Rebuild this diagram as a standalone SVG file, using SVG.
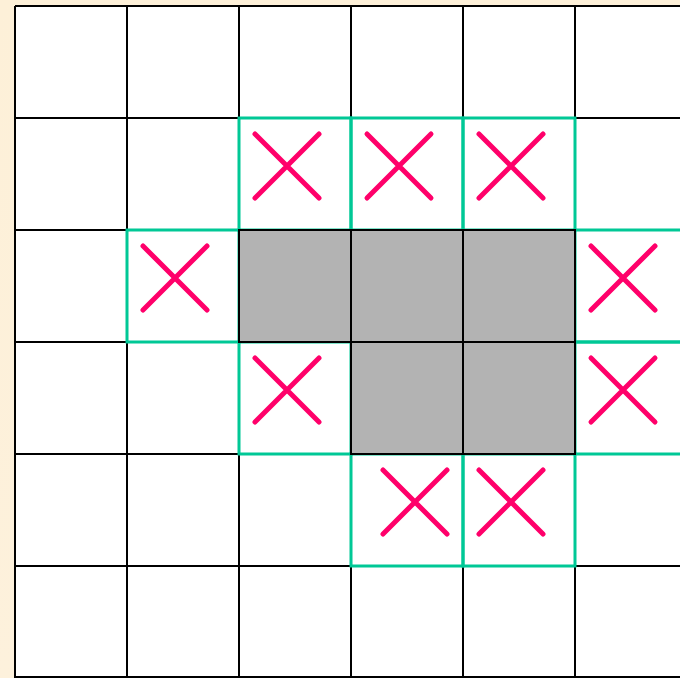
<svg xmlns="http://www.w3.org/2000/svg" width="680" height="678" viewBox="0 0 680 678">
<defs>
<linearGradient id="bg" x1="0" y1="0" x2="0" y2="1">
<stop offset="0" stop-color="#fdf0d8"/>
<stop offset="1" stop-color="#fdf1dc"/>
</linearGradient>
<style>
.grid{stroke:#000;stroke-width:2;fill:none}
.green{stroke:#00c896;stroke-width:3;fill:none}
.obst{fill:#b3b3b3;stroke:#000;stroke-width:2}
.x{stroke:#ff006a;stroke-width:5;stroke-linecap:round;fill:none}
</style>
</defs>
<rect x="0" y="0" width="680" height="678" fill="url(#bg)"/>
<rect x="15" y="6" width="680" height="680" fill="#fff"/>
<g id="grid" class="grid">
<path d="M15 6V678M127 6V678M239 6V678M351 6V678M463 6V678M575 6V678"/>
<path d="M15 6H680M15 118H680M15 230H680M15 342H680M15 454H680M15 566H680M15 677H680"/>
</g>
<g id="frontier" class="green">
<rect x="239" y="118" width="112" height="112"/>
<rect x="351" y="118" width="112" height="112"/>
<rect x="463" y="118" width="112" height="112"/>
<rect x="127" y="230" width="112" height="112"/>
<rect x="575" y="230" width="112" height="112"/>
<rect x="239" y="342" width="112" height="112"/>
<rect x="575" y="342" width="112" height="112"/>
<rect x="351" y="454" width="112" height="112"/>
<rect x="463" y="454" width="112" height="112"/>
</g>
<g id="obstacles">
<rect class="obst" x="239" y="230" width="112" height="112"/>
<rect class="obst" x="351" y="230" width="112" height="112"/>
<rect class="obst" x="463" y="230" width="112" height="112"/>
<rect class="obst" x="351" y="342" width="112" height="112"/>
<rect class="obst" x="463" y="342" width="112" height="112"/>
</g>
<g id="marks" class="x">
<path d="M255 134L319 198M319 134L255 198"/>
<path d="M367 134L431 198M431 134L367 198"/>
<path d="M479 134L543 198M543 134L479 198"/>
<path d="M143 246L207 310M207 246L143 310"/>
<path d="M591 246L655 310M655 246L591 310"/>
<path d="M255 358L319 422M319 358L255 422"/>
<path d="M591 358L655 422M655 358L591 422"/>
<path d="M383 470L447 534M447 470L383 534"/>
<path d="M479 470L543 534M543 470L479 534"/>
</g>
</svg>
